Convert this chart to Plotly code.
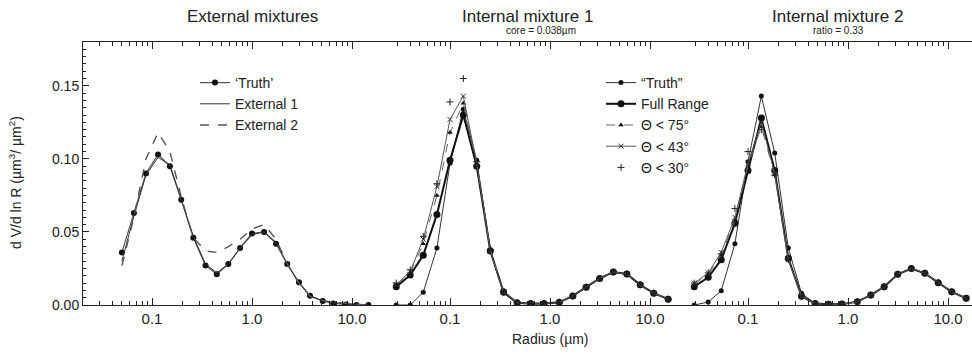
import plotly.graph_objects as go
from plotly.subplots import make_subplots

# ---------------- data ----------------
# Panel 1: External mixtures
radius_ext = [0.050, 0.066, 0.087, 0.115, 0.151, 0.196, 0.259, 0.343, 0.445, 0.58, 0.76,
              1.0, 1.32, 1.74, 2.25, 2.95, 3.8, 5.1, 6.5, 8.7, 11.1, 14.6]
truth_ext = [0.036, 0.063, 0.090, 0.103, 0.095, 0.072, 0.046, 0.027, 0.021, 0.028, 0.039,
             0.049, 0.050, 0.042, 0.028, 0.0155, 0.0064, 0.0027, 0.0011, 0.0004, 0.0, 0.0]
external_1 = [0.030, 0.061, 0.089, 0.101, 0.096, 0.073, 0.047, 0.028, 0.022, 0.028, 0.039,
              0.048, 0.050, 0.043, 0.028, 0.015, 0.006, 0.003, 0.0015, 0.001, 0.0005, 0.0]
external_2 = [0.027, 0.060, 0.100, 0.118, 0.105, 0.074, 0.046, 0.037, 0.036, 0.040, 0.045,
              0.052, 0.055, 0.045, 0.028, 0.015, 0.006, 0.003, 0.002, 0.001, 0.0005, 0.0]

# Panels 2 and 3: internal mixtures (common radius grid)
radius_int = [0.029, 0.040, 0.054, 0.074, 0.100, 0.136, 0.185, 0.253, 0.343, 0.47, 0.64,
              0.87, 1.24, 1.69, 2.3, 3.14, 4.3, 5.87, 7.98, 10.9, 15.2]

# Internal mixture 1 (core = 0.038 um)
truth_int1 = [0.0, 0.0, 0.0087, 0.039, 0.097, 0.134, 0.099, 0.038, 0.008, 0.001, 0.0008,
              0.0008, 0.0016, 0.006, 0.012, 0.018, 0.0228, 0.021, 0.0137, 0.008, 0.0039]
full_int1 = [0.0125, 0.0205, 0.034, 0.062, 0.099, 0.130, 0.095, 0.037, 0.009, 0.0015, 0.001,
             0.001, 0.0018, 0.0062, 0.0122, 0.0182, 0.0226, 0.0212, 0.0138, 0.0081, 0.004]
t75_int1 = [0.014, 0.022, 0.042, 0.075, 0.118, 0.138, 0.096, 0.038, 0.009, 0.0015, 0.001,
            0.001, 0.0018, 0.0062, 0.0122, 0.0182, 0.0226, 0.0212, 0.0138, 0.0081, 0.004]
t43_int1 = [0.014, 0.023, 0.045, 0.081, 0.127, 0.143, 0.097, 0.037, 0.009, 0.0015, 0.001,
            0.001, 0.0018, 0.0062, 0.0122, 0.0182, 0.0226, 0.0212, 0.0138, 0.0081, 0.004]
t30_int1 = [0.015, 0.024, 0.047, 0.083, 0.139, 0.155, 0.098, 0.038, 0.009, 0.0015, 0.001,
            0.001, 0.0018, 0.0062, 0.0122, 0.0182, 0.0226, 0.0212, 0.0138, 0.0081, 0.004]

# Internal mixture 2 (ratio = 0.33)
truth_int2 = [0.0, 0.002, 0.0098, 0.042, 0.098, 0.143, 0.104, 0.039, 0.008, 0.001, 0.0005,
              0.0005, 0.0023, 0.0068, 0.0125, 0.0212, 0.025, 0.0217, 0.0153, 0.0091, 0.0046]
full_int2 = [0.0125, 0.019, 0.031, 0.056, 0.092, 0.128, 0.092, 0.032, 0.006, 0.001, 0.0005,
             0.0006, 0.0023, 0.0068, 0.0125, 0.021, 0.025, 0.0217, 0.0153, 0.009, 0.0046]
t75_int2 = [0.014, 0.021, 0.034, 0.058, 0.095, 0.122, 0.089, 0.031, 0.006, 0.001, 0.0005,
            0.0006, 0.0023, 0.0068, 0.0125, 0.021, 0.025, 0.0217, 0.0153, 0.009, 0.0046]
t43_int2 = [0.015, 0.022, 0.036, 0.060, 0.097, 0.125, 0.090, 0.031, 0.006, 0.001, 0.0005,
            0.0006, 0.0023, 0.0068, 0.0125, 0.021, 0.025, 0.0217, 0.0153, 0.009, 0.0046]
t30_int2 = [0.015, 0.022, 0.035, 0.066, 0.105, 0.120, 0.089, 0.031, 0.006, 0.001, 0.0005,
            0.0006, 0.0023, 0.0068, 0.0125, 0.021, 0.025, 0.0217, 0.0153, 0.009, 0.0046]

x_tickvals = [0.1, 1, 10]
x_ticktext = ["0.1", "1.0", "10.0"]
y_tickvals = [0.00, 0.05, 0.10, 0.15]
y_ticktext = ["0.00", "0.05", "0.10", "0.15"]

panel_titles = ["External mixtures", "Internal mixture 1", "Internal mixture 2"]
panel_subtitles = ["", "core = 0.038µm", "ratio = 0.33"]

# ---------------- figure ----------------
W, H = 972, 354
L, R, T, B = 83, 0, 42, 49
PW = W - L - R
PH = H - T - B

def px_x(px):
    return (px - L) / PW

def px_y(py):
    return (H - B - py) / PH

fig = make_subplots(rows=1, cols=3, shared_yaxes=True, horizontal_spacing=0,
                    column_widths=[298, 298, 293])

FONT = "Arial, Liberation Sans, sans-serif"
INK = "#222222"

# Panel 1
fig.add_trace(go.Scatter(x=radius_ext, y=truth_ext, name="‘Truth’", mode="lines+markers",
                         line=dict(color="#555555", width=1.2),
                         marker=dict(color="#111111", size=6, symbol="circle"),
                         legend="legend"), row=1, col=1)
fig.add_trace(go.Scatter(x=radius_ext, y=external_1, name="External 1", mode="lines",
                         line=dict(color="#333333", width=1),
                         legend="legend"), row=1, col=1)
fig.add_trace(go.Scatter(x=radius_ext, y=external_2, name="External 2", mode="lines",
                         line=dict(color="#555555", width=1.4, dash="dash"),
                         legend="legend"), row=1, col=1)

def add_internal(col, truth, full, t75, t43, t30, show):
    fig.add_trace(go.Scatter(x=radius_int, y=truth, name="“Truth”", mode="lines+markers",
                             line=dict(color="#333333", width=1),
                             marker=dict(color="#111111", size=5, symbol="circle"),
                             legend="legend2", showlegend=show), row=1, col=col)
    fig.add_trace(go.Scatter(x=radius_int, y=full, name="Full Range", mode="lines+markers",
                             line=dict(color="#111111", width=2),
                             marker=dict(color="#111111", size=7, symbol="circle"),
                             legend="legend2", showlegend=show), row=1, col=col)
    fig.add_trace(go.Scatter(x=radius_int, y=t75, name="Θ < 75°", mode="lines+markers",
                             line=dict(color="#666666", width=1, dash="dash"),
                             marker=dict(color="#111111", size=5, symbol="triangle-up"),
                             legend="legend2", showlegend=show), row=1, col=col)
    fig.add_trace(go.Scatter(x=radius_int, y=t43, name="Θ < 43°", mode="lines+markers",
                             line=dict(color="#555555", width=1),
                             marker=dict(color="#333333", size=5, symbol="x-thin",
                                         line=dict(color="#333333", width=1)),
                             legend="legend2", showlegend=show), row=1, col=col)
    fig.add_trace(go.Scatter(x=radius_int, y=t30, name="Θ < 30°", mode="markers",
                             marker=dict(color="#222222", size=5, symbol="cross-thin",
                                         line=dict(color="#222222", width=1)),
                             legend="legend2", showlegend=show), row=1, col=col)

add_internal(2, truth_int1, full_int1, t75_int1, t43_int1, t30_int1, True)
add_internal(3, truth_int2, full_int2, t75_int2, t43_int2, t30_int2, False)

minor_x = [m * 10 ** e for e in range(-2, 2) for m in range(2, 10)]
x_ranges = [[-1.69, 1.29], [-1.69, 1.29], [-1.69, 1.24]]
for i, rng in enumerate(x_ranges, start=1):
    fig.update_xaxes(type="log", range=rng, tickvals=x_tickvals, ticktext=x_ticktext,
                     ticks="inside", ticklen=7, tickcolor=INK, showline=True,
                     linecolor=INK, linewidth=1, mirror="ticks", showgrid=False,
                     zeroline=False, tickfont=dict(family=FONT, size=15, color=INK),
                     minor=dict(ticks="inside", ticklen=4, tickcolor=INK,
                                tickvals=minor_x, showgrid=False),
                     row=1, col=i)

fig.update_yaxes(range=[0, 0.18], tickvals=y_tickvals, ticktext=y_ticktext,
                 ticks="inside", ticklen=6, tickcolor=INK, showline=True, linecolor=INK,
                 linewidth=1, showgrid=False, zeroline=False,
                 tickfont=dict(family=FONT, size=14, color=INK),
                 minor=dict(ticks="inside", ticklen=3, tickcolor=INK, dtick=0.005,
                            showgrid=False),
                 row=1, col=1)
for c in (2, 3):
    fig.update_yaxes(showticklabels=False, ticks="", showline=False, showgrid=False,
                     zeroline=False, minor=dict(ticks=""), row=1, col=c)

annotations = []
title_px = [252, 527, 837]
sub_px = [None, 541, 838]
for t, s, tx, sx in zip(panel_titles, panel_subtitles, title_px, sub_px):
    annotations.append(dict(text=t, x=px_x(tx), y=px_y(17), xref="paper", yref="paper",
                            showarrow=False, xanchor="center", yanchor="middle",
                            font=dict(family=FONT, size=17, color=INK)))
    if s:
        annotations.append(dict(text=s, x=px_x(sx), y=px_y(31), xref="paper", yref="paper",
                                showarrow=False, xanchor="center", yanchor="middle",
                                font=dict(family=FONT, size=10, color=INK)))
annotations.append(dict(text="Radius (µm)", x=px_x(550), y=px_y(339), xref="paper",
                        yref="paper", showarrow=False, xanchor="center", yanchor="middle",
                        font=dict(family=FONT, size=14, color=INK)))
annotations.append(dict(text="d V/d ln R (µm<sup>3</sup>/ µm<sup>2</sup>)", x=px_x(15),
                        y=px_y(183), xref="paper", yref="paper", showarrow=False,
                        xanchor="center", yanchor="middle", textangle=-90,
                        font=dict(family=FONT, size=14, color=INK)))

fig.update_layout(
    width=W, height=H,
    margin=dict(l=L, r=R, t=T, b=B),
    paper_bgcolor="white", plot_bgcolor="white",
    font=dict(family=FONT, color=INK),
    annotations=annotations,
    hovermode=False,
    legend=dict(x=px_x(195), y=px_y(67), xanchor="left", yanchor="top",
                bgcolor="rgba(0,0,0,0)", font=dict(family=FONT, size=14, color=INK),
                tracegroupgap=0),
    legend2=dict(x=px_x(601), y=px_y(67), xanchor="left", yanchor="top",
                 bgcolor="rgba(0,0,0,0)", font=dict(family=FONT, size=14, color=INK),
                 tracegroupgap=0),
)

fig.write_html("out.html",
               config={"displayModeBar": False},
               post_script="document.body.style.margin='0';"
                           "document.body.style.overflow='hidden';")
